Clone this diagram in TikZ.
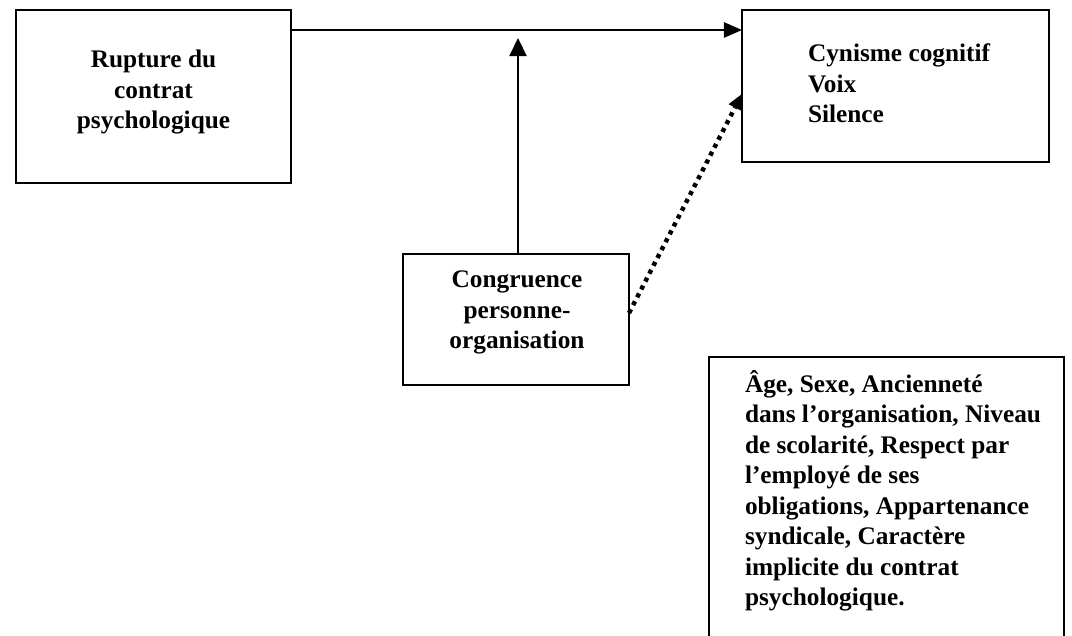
\documentclass[tikz,border=0pt]{standalone}
\usepackage{fontspec}
\setmainfont{Liberation Serif}
\usetikzlibrary{arrows.meta}

% stacked lines with the baseline of the first line as reference
\newcommand\txtblock[2]{\begin{tabular}[t]{@{}#1@{}}#2\end{tabular}}

\tikzset{
  frame/.style={draw, line width=1.5pt, inner sep=0pt, outer sep=0pt},
  label/.style={inner sep=0pt, outer sep=0pt,
    font=\bfseries\fontsize{18pt}{21.4pt}\selectfont},
  link/.style={line width=1.4pt, -{Triangle[length=0.45cm,width=0.38cm]}},
  moderator/.style={line width=2.1pt, -{Triangle[length=0.45cm,width=0.42cm]}},
  dotlink/.style={line width=3.2pt, dash pattern=on 3pt off 3.3pt,
    -{Triangle[length=0.38cm,width=0.36cm,line width=0pt]}},
}

\begin{document}
\begin{tikzpicture}[x=0.025cm, y=-0.025cm]
  \useasboundingbox[fill=white] (0,0) rectangle (1072,636);
  \clip (0,0) rectangle (1072,636);

  % boxes
  \node[frame, minimum width=6.875cm, minimum height=4.325cm] (rupture) at (153.5,96.5) {};
  \node[frame, minimum width=7.675cm, minimum height=3.8cm] (outcomes) at (895.5,86) {};
  \node[frame, minimum width=5.65cm, minimum height=3.275cm] (congruence) at (516,319.5) {};
  \node[frame, minimum width=8.875cm, minimum height=7.6cm] (controls) at (886.5,509) {};

  % texts
  \node[label, anchor=base] (ruptureText) at (153.5,68)
    {\txtblock{c}{Rupture du\\contrat\\psychologique}};
  \node[label, anchor=base west] (outcomesText) at (808,62)
    {\txtblock{l}{Cynisme cognitif\\Voix\\Silence}};
  \node[label, anchor=base] (congruenceText) at (517,288)
    {\txtblock{c}{Congruence\\personne-\\organisation}};
  \node[label, anchor=base west, font=\bfseries\fontsize{18pt}{21.7pt}\selectfont] (controlsText) at (745,392)
    {\txtblock{l}{Âge, Sexe, Ancienneté\\dans l’organisation, Niveau\\de scolarité, Respect par\\l’employé de ses\\obligations, Appartenance\\syndicale, Caractère\\implicite du contrat\\psychologique.}};

  % connectors
  \coordinate (mainLevel) at (300,30);
  \coordinate (modTip) at (518,38);
  \coordinate (dotStart) at (629,313);
  \coordinate (dotEnd) at (741,94);

  \draw[link] (rupture.east |- mainLevel) -- (outcomes.west |- mainLevel);
  \draw[moderator] (modTip |- congruence.north) -- (modTip);
  \draw[dotlink] (congruence.east |- dotStart) -- (outcomes.west |- dotEnd);
\end{tikzpicture}
\end{document}
